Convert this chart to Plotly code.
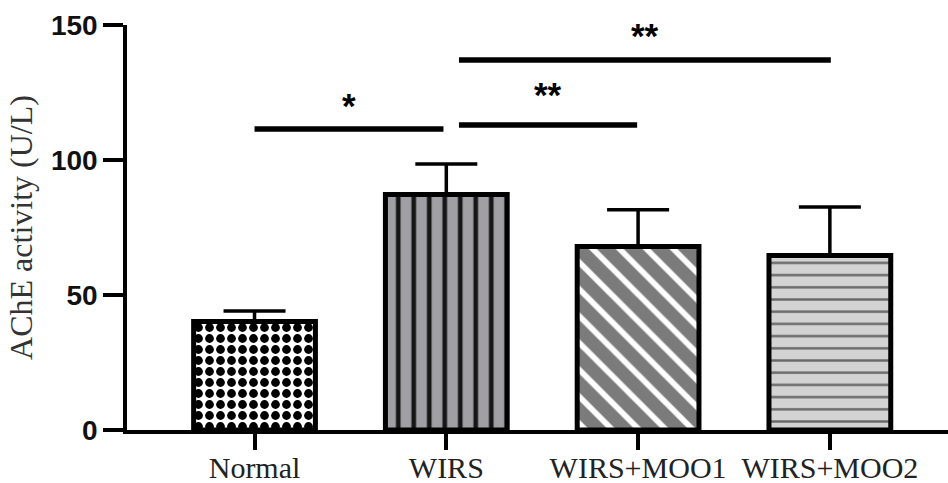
import plotly.graph_objects as go

# ---- data ----
groups = ["Normal", "WIRS", "WIRS+MOO1", "WIRS+MOO2"]
means = [40.2, 87.2, 68.0, 64.6]
sd_upper = [3.9, 11.3, 13.6, 18.0]

# significance comparisons: (start, end) in category units, bar height, label
sig_start = [0.0, 1.066, 1.066]
sig_end = [0.985, 1.995, 3.005]
sig_height = [111.5, 113.0, 137.0]
sig_label = ["*", "**", "**"]

y_ticks = [0, 50, 100, 150]

# ---- styles ----
bar_colors = ["#ffffff", "#a0a0a4", "#7b7b7b", "#d3d3d3"]
pat_shapes = [".", "|", "\\", "-"]
pat_fg = ["#000000", "#161616", "#ffffff", "#6a6a6a"]
pat_size = [11, 15.5, 19, 12.2]
pat_sol = [0.5, 0.3, 0.3, 0.2]
star_shift = [2, 9, 3]

x_pos = list(range(len(groups)))

fig = go.Figure()
for i, g in enumerate(groups):
    fig.add_trace(go.Bar(
        x=[x_pos[i]], y=[means[i]], width=0.635,
        marker=dict(
            color=bar_colors[i],
            line=dict(color="black", width=5),
            pattern=dict(shape=pat_shapes[i], fgcolor=pat_fg[i], bgcolor=bar_colors[i],
                         size=pat_size[i], solidity=pat_sol[i], fillmode="replace"),
        ),
        error_y=dict(type="data", symmetric=False, array=[sd_upper[i]], arrayminus=[0],
                     color="black", thickness=3.5, width=31),
        showlegend=False,
        hoverinfo="skip",
    ))

for s, e, h, lab, sh in zip(sig_start, sig_end, sig_height, sig_label, star_shift):
    fig.add_shape(type="line", x0=s, x1=e, y0=h, y1=h, xref="x", yref="y",
                  line=dict(color="black", width=5.5))
    fig.add_annotation(x=(s + e) / 2, y=h, xref="x", yref="y", text=lab, showarrow=False,
                       yanchor="bottom", yshift=sh,
                       font=dict(family="Liberation Sans", size=35, color="black", weight="bold"))

fig.update_layout(
    width=948, height=483,
    margin=dict(l=127, r=0, t=25, b=53, autoexpand=False),
    plot_bgcolor="white", paper_bgcolor="white",
)
fig.update_xaxes(
    range=[-0.665, 3.616], tickmode="array", tickvals=x_pos, ticktext=groups,
    showline=True, linecolor="black", linewidth=3.5,
    ticks="outside", ticklen=16, tickwidth=3.5, tickcolor="black",
    tickfont=dict(family="Liberation Serif", size=30, color="#222222"),
    ticklabelstandoff=-8,
    showgrid=False, zeroline=False, automargin=False,
)
fig.update_yaxes(
    range=[0, 150], tickmode="array", tickvals=y_ticks,
    showline=True, linecolor="black", linewidth=3.5,
    ticks="outside", ticklen=20, tickwidth=3.5, tickcolor="black",
    tickfont=dict(family="Liberation Sans", size=28, color="#111111", weight="bold"),
    title=dict(text="AChE activity (U/L)", standoff=10,
               font=dict(family="Liberation Serif", size=32, color="#333333")),
    showgrid=False, zeroline=False, automargin=False,
)

fig.write_html("out.html", config={"displayModeBar": False},
               post_script="document.body.style.margin='0';")
